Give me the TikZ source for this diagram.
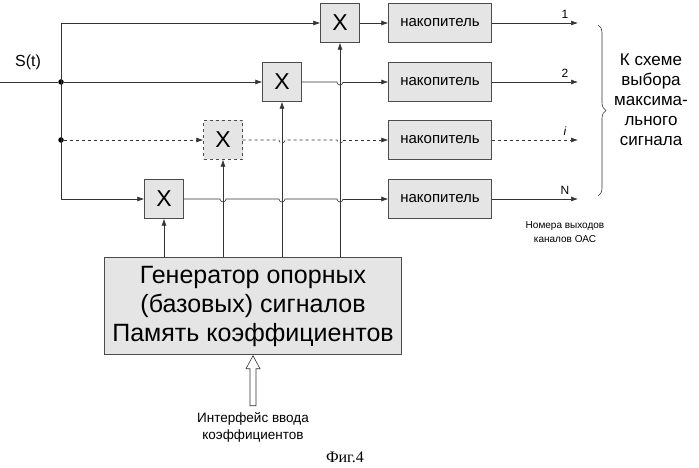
\documentclass[tikz,border=0pt]{standalone}
\usepackage{fontspec}
\setmainfont{Liberation Sans}
\newfontfamily\figfont{Liberation Serif}
\usetikzlibrary{positioning,calc,arrows.meta,decorations.pathreplacing}
\tikzset{
  mulbox/.style={draw=black!70,fill=black!10,minimum width=39pt,minimum height=39pt,inner sep=0pt,font=\fontsize{23}{23}\selectfont},
  accbox/.style={draw=black!70,fill=black!10,minimum width=103pt,minimum height=39pt,inner sep=0pt,font=\fontsize{15}{15}\selectfont},
  sig/.style={draw=black!80,line width=0.6pt},
  arr/.style={sig,-{Latex[length=7pt,width=5pt]}},
  junc/.style={circle,fill=black,inner sep=0pt,minimum size=5.5pt},
  outlab/.style={pos=0.85,above=1pt,font=\fontsize{12}{12}\selectfont},
}
\begin{document}
\begin{tikzpicture}[x=1pt,y=-1pt]
  \useasboundingbox (0,0) rectangle (699,468);
  % multipliers and accumulators
  \node[mulbox] (m1) at (340,23) {X};
  \node[mulbox] (m2) at (282,82) {X};
  \node[mulbox,dashed] (m3) at (223,140) {X};
  \node[mulbox] (m4) at (164,199) {X};
  \foreach \r/\yy in {1/23,2/82,3/140,4/199}
    \node[accbox] (a\r) at (440,\yy) {накопитель};
  % generator
  \node[draw=black!70,fill=black!10,minimum width=297pt,minimum height=97pt,
        font=\fontsize{25}{29}\selectfont,align=center] (gen) at (253,306)
    {Генератор опорных\\(базовых) сигналов\\Память коэффициентов};
  % input and splitter
  \coordinate (s0) at (0,82);
  \node[junc] (j2) at (61,82) {};
  \node[junc] (j3) at (61,140) {};
  \node at (28,62) {\fontsize{16}{16}\selectfont S(t)};
  \draw[sig] (s0) -- (j2);
  \draw[sig] (61,23) -- (61,199);
  \draw[arr] (61,23) -- (m1.west);
  \draw[arr] (j2) -- (m2.west);
  \draw[arr,dashed] (j3) -- (m3.west);
  \draw[arr] (61,199) -- (m4.west);
  % multipliers to accumulators, hopping over the verticals
  \draw[arr] (m1.east) -- (a1.west);
  \draw[sig] (m2.east) -- (337,82) arc(180:0:3) -- (343,82);
  \draw[arr] (343,82) -- (a2.west);
  \draw[sig,dashed] (m3.east) -- (279,140) arc(180:0:3) -- (337,140) arc(180:0:3) -- (343,140);
  \draw[arr,dashed] (343,140) -- (a3.west);
  \draw[sig] (m4.east) -- (220,199) arc(180:0:3) -- (279,199) arc(180:0:3) -- (337,199) arc(180:0:3) -- (343,199);
  \draw[arr] (343,199) -- (a4.west);
  % generator to multipliers
  \foreach \r in {1,2,3,4}
    \draw[arr] (gen.north -| m\r) -- (m\r.south);
  % outputs
  \foreach \r in {1,2,3,4}
    \coordinate (o\r) at (578,0 |- a\r);
  \draw[arr] (a1.east) -- (o1) node[outlab] {1};
  \draw[arr] (a2.east) -- (o2) node[outlab] {2};
  \draw[arr,dashed] (a3.east) -- (o3) node[outlab] {\textit{i}};
  \draw[arr] (a4.east) -- (o4) node[outlab] {N};
  \node[font=\fontsize{10}{14}\selectfont,align=center] (num) at (565,232) {Номера выходов\\каналов ОАС};
  % brace
  \draw[sig,decorate,decoration={brace,amplitude=8pt}] (598,25) -- (598,196);
  \node[font=\fontsize{17}{20}\selectfont,align=center] (dest) at (651,100)
    {К схеме\\выбора\\максима-\\льного\\сигнала};
  % interface
  \node[font=\fontsize{13.5}{17}\selectfont,align=center] (ifc) at (253,427) {Интерфейс ввода\\коэффициентов};
  \coordinate (tip) at ($(gen.south)+(0,1)$);
  \draw[sig,fill=white] ($(tip)+(-3,50)$) -- ++(0,-37) -- ++(-4,0) -- (tip) -- ++(7,13)
    -- ++(-4,0) -- ++(0,37) -- cycle;
  \node[font=\figfont\fontsize{16}{16}\selectfont] (fig) at (345,457) {Фиг.4};
\end{tikzpicture}
\end{document}
